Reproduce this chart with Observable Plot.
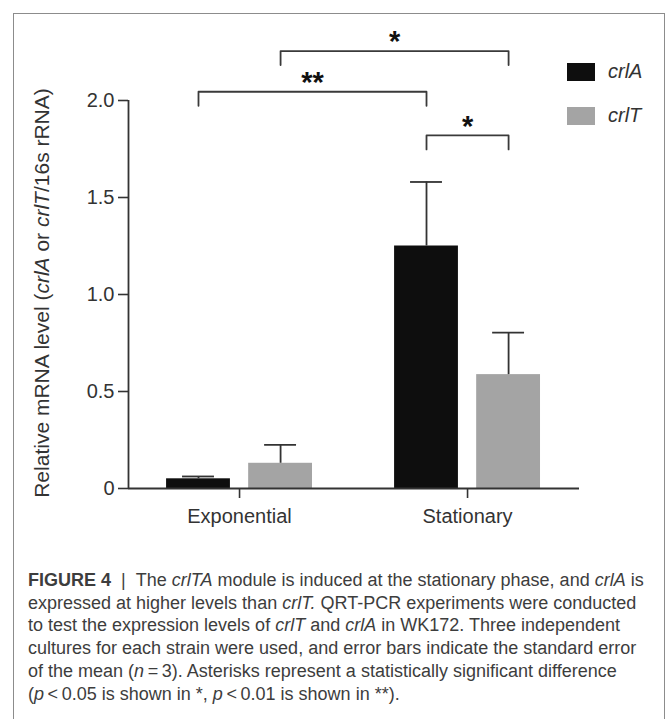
<!DOCTYPE html>
<html>
<head>
<meta charset="utf-8">
<script src="https://cdn.jsdelivr.net/npm/d3@7"></script>
<script src="https://cdn.jsdelivr.net/npm/@observablehq/plot@0.6"></script>
<style>
  html, body { margin: 0; padding: 0; background: #fff; }
  #page { position: relative; width: 668px; height: 719px; overflow: hidden; font-family: "Liberation Sans", Arial, sans-serif; }
  #border { position: absolute; left: 13px; top: 13px; width: 652px; height: 760px; border: 1.5px solid #8c8c8c; box-sizing: border-box; }
  #chart { position: absolute; left: 0; top: 0; }
  #legend { position: absolute; left: 567px; top: 60px; font-size: 20px; color: #333; }
  .leg-row { position: absolute; left: 0; display: flex; align-items: center; white-space: nowrap; }
  .sw { width: 28px; height: 18px; margin-right: 13px; }
  #caption { position: absolute; left: 28px; top: 569px; font-size: 18px; line-height: 22.7px; color: #3d3d3d; white-space: nowrap; }
  #caption .sep { font-weight: normal; margin: 0 10px; }
</style>
</head>
<body>
<div id="page">
  <div id="border"></div>
  <div id="chart"></div>
  <div id="legend"></div>
  <div id="caption">
    <div><b>FIGURE 4</b><span class="sep">|</span>The <i>crlTA</i> module is induced at the stationary phase, and <i>crlA</i> is</div>
    <div>expressed at higher levels than <i>crlT.</i> QRT-PCR experiments were conducted</div>
    <div>to test the expression levels of <i>crlT</i> and <i>crlA</i> in WK172. Three independent</div>
    <div>cultures for each strain were used, and error bars indicate the standard error</div>
    <div>of the mean (<i>n</i>&#8201;=&#8201;3). Asterisks represent a statistically significant difference</div>
    <div>(<i>p</i>&#8201;&lt;&#8201;0.05 is shown in *, <i>p</i>&#8201;&lt;&#8201;0.01 is shown in **).</div>
  </div>
</div>
<script>
// ---- data ----
const phases = ["Exponential", "Stationary"];
const genes = ["crlA", "crlT"];
const crlAMean = [0.05, 1.25];
const crlASem = [0.012, 0.33];
const crlTMean = [0.13, 0.587];
const crlTSem = [0.095, 0.216];
const yTicks = [0, 0.5, 1.0, 1.5, 2.0];
const brackets = [
  {fromPhase: "Exponential", fromGene: "crlT", toPhase: "Stationary", toGene: "crlT", y: 2.255, label: "*"},
  {fromPhase: "Exponential", fromGene: "crlA", toPhase: "Stationary", toGene: "crlA", y: 2.045, label: "**"},
  {fromPhase: "Stationary", fromGene: "crlA", toPhase: "Stationary", toGene: "crlT", y: 1.82, label: "*"}
];

// ---- layout / style ----
const geneColors = ["#0e0e0e", "#a4a4a4"];
const geneOffset = {crlA: -0.18, crlT: 0.18};
const barHalf = 0.14;
const capHalf = 0.07;
const legLen = 0.072;
const ink = "#333";

const means = {crlA: crlAMean, crlT: crlTMean};
const sems = {crlA: crlASem, crlT: crlTSem};
const rows = phases.flatMap((p, pi) => genes.map(g => ({
  phase: p, gene: g, pi, mean: means[g][pi], sem: sems[g][pi]
})));
const center = (phase, gene) => phases.indexOf(phase) + geneOffset[gene];
const cx = d => center(d.phase, d.gene);

const bracketPts = brackets.flatMap((b, k) => {
  const xa = center(b.fromPhase, b.fromGene), xb = center(b.toPhase, b.toGene);
  return [
    {k, x: xa, y: b.y - legLen}, {k, x: xa, y: b.y},
    {k, x: xb, y: b.y}, {k, x: xb, y: b.y - legLen}
  ];
});

const xDomain = [-0.487, 1.491];

const plot = Plot.plot({
  width: 668,
  height: 540,
  marginLeft: 128,
  marginRight: 89,
  marginTop: 100,
  marginBottom: 52,
  style: {fontFamily: "'Liberation Sans', Arial, sans-serif", fontSize: "20px", color: ink, background: "transparent"},
  x: {domain: xDomain, ticks: [0, 1], tickFormat: i => phases[i], tickSize: 10, tickPadding: 10, label: null},
  y: {domain: [0, 2], ticks: yTicks, tickFormat: d => d === 0 ? "0" : d.toFixed(1), tickSize: 10, tickPadding: 4, label: null},
  color: {domain: genes, range: geneColors},
  marks: [
    Plot.rectY(rows, {x1: d => cx(d) - barHalf, x2: d => cx(d) + barHalf, y: "mean", fill: "gene"}),
    Plot.ruleX(rows, {x: cx, y1: "mean", y2: d => d.mean + d.sem, stroke: ink, strokeWidth: 1.8}),
    Plot.ruleY(rows, {y: d => d.mean + d.sem, x1: d => cx(d) - capHalf, x2: d => cx(d) + capHalf, stroke: ink, strokeWidth: 1.8}),
    Plot.ruleY([0], {stroke: ink, strokeWidth: 1.8}),
    Plot.ruleX([xDomain[0]], {y1: 0, y2: 2, stroke: ink, strokeWidth: 1.8}),
    Plot.line(bracketPts, {x: "x", y: "y", z: "k", stroke: "#3a3a3a", strokeWidth: 1.8}),
    Plot.text(brackets, {
      x: b => (center(b.fromPhase, b.fromGene) + center(b.toPhase, b.toGene)) / 2,
      y: "y", text: "label", fontSize: 29, fontWeight: "bold", dy: -9, fill: "#111"
    })
  ]
});
document.getElementById("chart").appendChild(plot);

// axis tick stroke width
d3.select(plot).selectAll("g[aria-label*='tick'] path, g[aria-label*='tick'] line").attr("stroke-width", 1.6);

// rotated y-axis title with italic gene names
const yl = d3.select(plot).append("text")
  .attr("transform", "translate(42,293) rotate(-90)")
  .attr("text-anchor", "middle")
  .attr("dy", "0.35em")
  .attr("fill", ink)
  .style("font-size", "21px");
[["Relative mRNA level (", false], ["crlA", true], [" or ", false], ["crlT", true], ["/16s rRNA)", false]]
  .forEach(([t, it]) => yl.append("tspan").attr("font-style", it ? "italic" : null).text(t));

// legend
const legend = d3.select("#legend");
genes.forEach((g, i) => {
  const row = legend.append("div").attr("class", "leg-row").style("top", (i * 44) + "px");
  row.append("div").attr("class", "sw").style("background", geneColors[i]);
  row.append("i").text(g);
});
</script>
</body>
</html>
